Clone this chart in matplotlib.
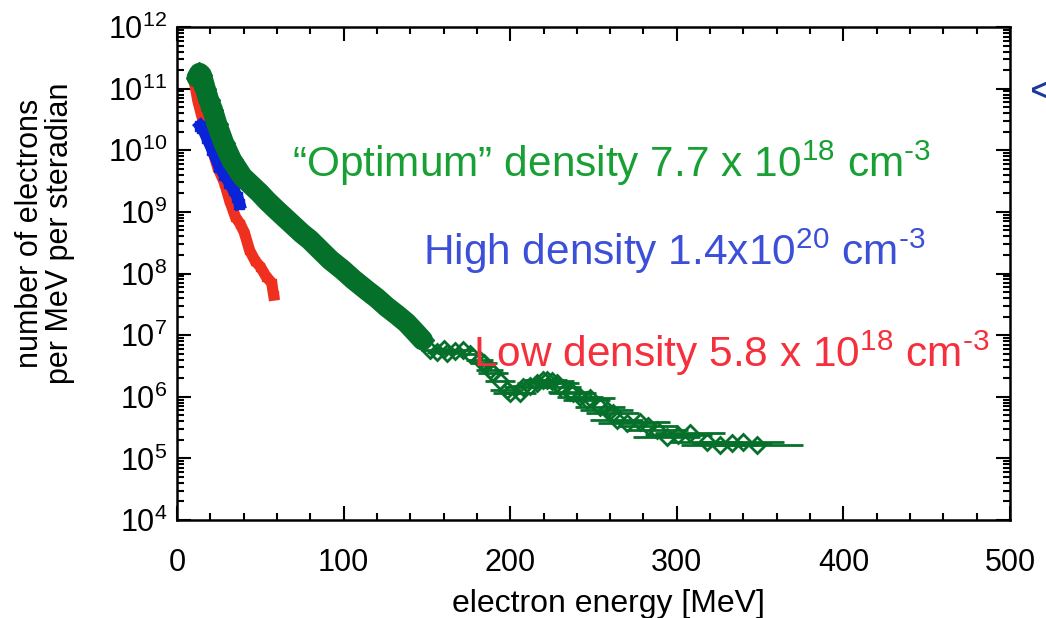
import matplotlib
matplotlib.use("Agg")
import matplotlib.pyplot as plt
import numpy as np
from matplotlib.ticker import MultipleLocator, LogLocator

plt.rcParams['font.family'] = ['Liberation Sans', 'DejaVu Sans']
plt.rcParams['mathtext.fontset'] = 'custom'
plt.rcParams['mathtext.rm'] = 'Liberation Sans'
plt.rcParams['mathtext.it'] = 'Liberation Sans'
plt.rcParams['mathtext.bf'] = 'Liberation Sans:bold'
plt.rcParams['mathtext.default'] = 'regular'

# low density run (red)
low_E = [10.5, 12.5, 15, 18, 21.3, 24.3, 28.5, 31.5, 35, 38, 40.5, 43.5, 47, 50, 53.5, 56.8, 58]
low_logN = [11.1, 10.8, 10.54, 10.25, 10.0, 9.73, 9.47, 9.19, 8.92, 8.8, 8.66, 8.38, 8.2, 8.11, 7.95, 7.85, 7.65]

# high density run (blue)
high_E = [14, 15.3, 18, 21.3, 25.5, 28.5, 31.5, 34, 36.3, 37.5]
high_logN = [10.4, 10.36, 10.2, 10.0, 9.73, 9.6, 9.47, 9.35, 9.24, 9.13]

# optimum density run (green), dense low-energy part
opt_E = [12, 13.5, 14.7, 17, 19, 21.3, 24, 28, 32.8, 39.3, 44, 49.5, 54, 59.8, 65, 70.6, 75, 79.6,
         86, 92, 99.4, 106, 113.8, 120, 125.8, 132, 137.8, 143, 147.4]
opt_logN = [11.18, 11.25, 11.22, 11.0, 10.82, 10.66, 10.42, 10.12, 9.84, 9.57, 9.45, 9.31, 9.18, 9.03,
            8.9, 8.76, 8.65, 8.55, 8.38, 8.22, 8.06, 7.9, 7.73, 7.6, 7.46, 7.33, 7.2, 7.05, 6.92]

# optimum density run (green), sparse high-energy part with energy error bars
opt_hi_E = [132, 136, 140, 144, 147, 151.6, 156, 160, 162, 167, 171.5, 176, 181.7, 184, 187.7, 189.5, 194,
            197.9, 199.7, 205.7, 207.5, 212, 215.9, 219.5, 221.9, 225, 228, 229.7, 235.7, 237.5, 242,
            245.9, 247.7, 253.8, 258, 261.6, 264, 270, 277.8, 283, 288, 294, 301, 307.8, 318, 325.8,
            333, 339.6, 348]
opt_hi_logN = [7.35, 7.25, 7.12, 7.02, 6.95, 6.76, 6.72, 6.78, 6.71, 6.74, 6.76, 6.7, 6.6, 6.55, 6.44, 6.38,
               6.25, 6.11, 6.06, 6.06, 6.16, 6.18, 6.22, 6.27, 6.27, 6.25, 6.22, 6.16, 6.08, 6.06, 6.0,
               5.95, 5.98, 5.83, 5.79, 5.73, 5.62, 5.57, 5.59, 5.52, 5.46, 5.35, 5.38, 5.41, 5.27, 5.22,
               5.25, 5.27, 5.22]
opt_hi_dE = [4, 4, 4, 5, 5, 5, 6, 6, 6, 6, 7, 7, 8, 8, 8, 9, 9,
             10, 10, 10, 11, 11, 12, 12, 12, 13, 13, 13, 13, 14, 14,
             14, 15, 15, 16, 16, 16, 17, 18, 18, 19, 20, 20, 21, 22, 23,
             24, 25, 28]

green_dark = '#05702a'
red = '#f0301e'
blue = '#0a22d8'

fig = plt.figure(figsize=(10.46, 6.18), dpi=100)
ax = fig.add_axes([177 / 1046, 1 - 520 / 618, 833 / 1046, 493 / 618])

ax.plot(low_E, 10 ** np.array(low_logN), color=red, lw=8, marker='s', ms=6, zorder=2)
ax.plot(high_E, 10 ** np.array(high_logN), color=blue, lw=8.5, marker='s', ms=7, zorder=3)
ax.plot(opt_E, 10 ** np.array(opt_logN), color=green_dark, lw=15, marker='D', ms=11,
        solid_capstyle='round', zorder=4)
ax.errorbar(opt_hi_E, 10 ** np.array(opt_hi_logN), xerr=opt_hi_dE, fmt='D', ms=8,
            mfc='none', mec=green_dark, mew=2, ecolor=green_dark, elinewidth=2, capsize=0, zorder=4)

ax.set_yscale('log')
ax.set_xlim(0, 500)
ax.set_ylim(1e4, 1e12)
ax.xaxis.set_major_locator(MultipleLocator(100))
ax.xaxis.set_minor_locator(MultipleLocator(20))
ax.yaxis.set_major_locator(LogLocator(base=10, numticks=20))
ax.yaxis.set_minor_locator(LogLocator(base=10, subs=np.arange(2, 10), numticks=20))
ax.tick_params(which='both', direction='in', top=True, right=True, width=1.5, colors='black')
ax.tick_params(axis='x', which='major', length=10, pad=20, labelsize=22)
ax.tick_params(axis='x', which='minor', length=5)
ax.tick_params(axis='y', which='major', length=10, pad=7, labelsize=22)
ax.tick_params(axis='y', which='minor', length=5)
for s in ax.spines.values():
    s.set_linewidth(1.8)

hy = "\u2010"
fig.text(292 / 1046, 1 - 177 / 618, "\u201cOptimum\u201d density 7.7 x 10$^{18}$ cm$^{" + hy + "3}$",
         color='#18a035', fontsize=30.5, va='baseline', ha='left')
fig.text(423 / 1046, 1 - 265 / 618, "High density 1.4x10$^{20}$ cm$^{" + hy + "3}$",
         color='#3c4fd8', fontsize=30.5, va='baseline', ha='left')
fig.text(473 / 1046, 1 - 367 / 618, "Low density 5.8 x 10$^{18}$ cm$^{" + hy + "3}$",
         color='#f5303c', fontsize=30.5, va='baseline', ha='left')
fig.text(1030 / 1046, 1 - 104 / 618, "<", color='#1a3a9a', fontsize=30, va='baseline', ha='left')

fig.text(45 / 1046, 1 - 233 / 618, "number of electrons\nper MeV per steradian", rotation=90,
         fontsize=22, ha='center', va='center', linespacing=1.0)
fig.text(608 / 1046, 1 - 612 / 618, "electron energy [MeV]", fontsize=23, ha='center', va='baseline')

fig.savefig('out.png', dpi=100)
